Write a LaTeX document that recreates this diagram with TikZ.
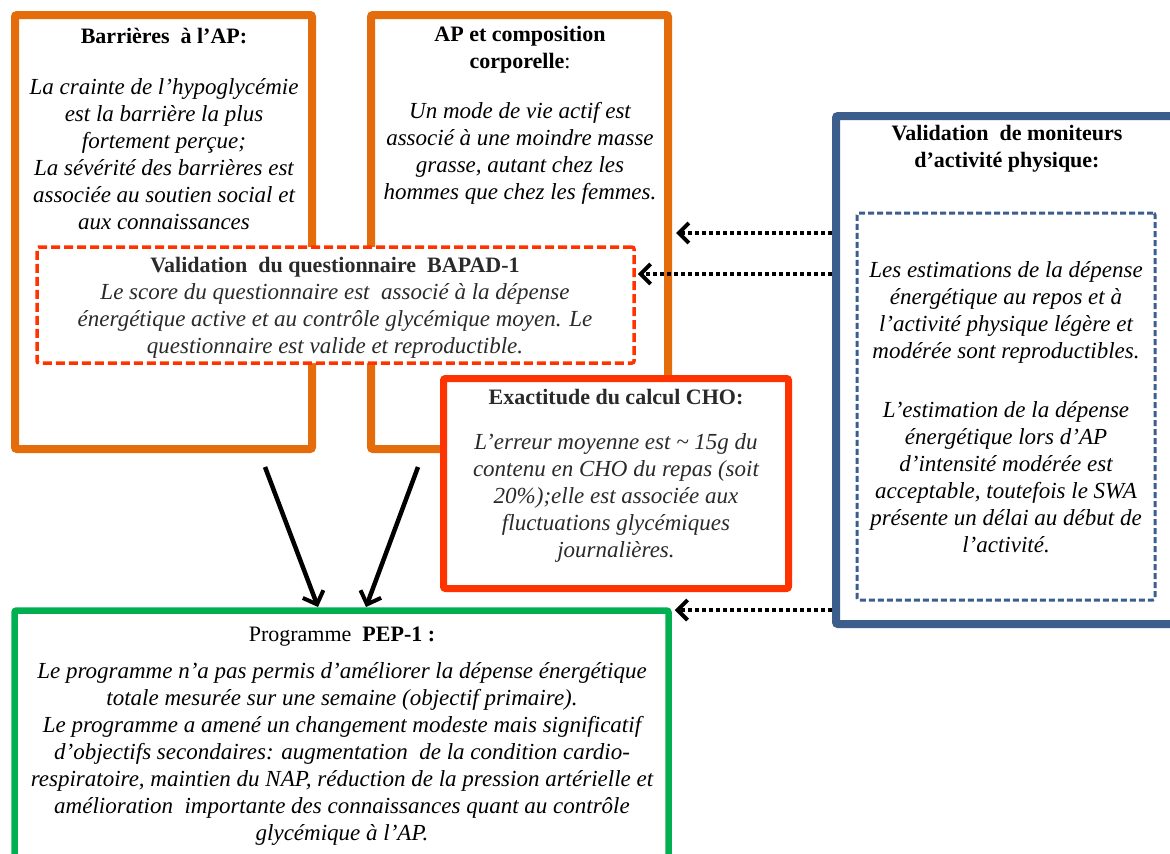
\documentclass[tikz,border=0pt]{standalone}
\usepackage{fontspec}
\setmainfont{Liberation Serif}
\usetikzlibrary{arrows.meta}
\definecolor{orng}{HTML}{E46C0A}
\definecolor{redo}{HTML}{FF3300}
\definecolor{grn}{HTML}{00B050}
\definecolor{blu}{HTML}{3B5E8C}
\definecolor{inkgray}{HTML}{2A2A2A}
\begin{document}
\begin{tikzpicture}[x=1pt,y=-1pt,
  frame/.style={draw, fill=white, rounded corners=2pt, inner sep=0pt},
  orangebox/.style={frame, draw=orng, line width=8pt},
  redbox/.style={frame, draw=redo, line width=7pt},
  qbox/.style={frame, draw=redo, line width=3.5pt, dash pattern=on 9pt off 4pt},
  greenbox/.style={frame, draw=grn, line width=6.5pt},
  bluebox/.style={frame, draw=blu, line width=8pt},
  innerbox/.style={frame, draw=blu, line width=3pt, dash pattern=on 6pt off 3pt},
  txt/.style={align=center, inner sep=0pt, font=\fontsize{22}{27}\selectfont},
  head/.style={txt, font=\fontsize{22}{27}\selectfont\bfseries},
  body/.style={txt, font=\fontsize{23}{27}\selectfont\itshape},
  solidarrow/.style={line width=4.5pt, -{Straight Barb[length=11pt,width=22pt,line width=4pt]}},
  dotarrow/.style={line width=4.5pt, dash pattern=on 4pt off 3pt,
    -{Straight Barb[length=10pt,width=20pt,line width=4pt]}}
]
\clip (0,0) rectangle (1170,854);

% frames
\node[orangebox, minimum width=297pt, minimum height=434pt] (barr) at (163.5,232) {};
\node[orangebox, minimum width=297pt, minimum height=434pt] (compo) at (519.5,232) {};
\node[qbox, minimum width=597pt, minimum height=116pt] (bapad) at (335.5,305) {};
\node[redbox, minimum width=345pt, minimum height=210pt] (cho) at (616,483.5) {};
\node[greenbox, minimum width=654pt, minimum height=300pt] (pep) at (341.5,760.5) {};
\node[bluebox, minimum width=364pt, minimum height=508pt] (moni) at (1018,370) {};
\node[innerbox, minimum width=298pt, minimum height=387pt] (est) at (1006,406.5) {};

% texts
\node[head] (barrT) at (164,36) {Barrières\ \ à l’AP:};
\node[body] (barrB) at (164,154) {La crainte de l’hypoglycémie\\est la barrière la plus\\fortement perçue;\\La sévérité des barrières est\\associée au soutien social et\\aux connaissances};

\node[head] (compoT) at (520,50) {AP et composition\\corporelle\textmd{:}};
\node[body] (compoB) at (520,153.5) {Un mode de vie actif est\\associé à une moindre masse\\grasse, autant chez les\\hommes que chez les femmes.};

\node[head, text=inkgray] (bapadT) at (335,267) {Validation\ \ du questionnaire\ \ BAPAD-1};
\node[body, text=inkgray] (bapadB) at (335,321) {Le score du questionnaire est\ \ associé à la dépense\\énergétique active et au contrôle glycémique moyen. Le\\questionnaire est valide et reproductible.};

\node[head, text=inkgray] (choT) at (616,397) {Exactitude du calcul CHO:};
\node[body, text=inkgray] (choB) at (616,497.5) {L’erreur moyenne est\ \textasciitilde\ 15g du\\contenu en CHO du repas (soit\\20\%);elle est associée aux\\fluctuations glycémiques\\journalières.};

\node[head] (moniT) at (1007,149) {Validation\ \ de moniteurs\\d’activité physique:};
\node[body] (estA) at (1006,312) {Les estimations de la dépense\\énergétique au repos et à\\l’activité physique légère et\\modérée sont reproductibles.};
\node[body] (estB) at (1006,477) {L’estimation de la dépense\\énergétique lors d’AP\\d’intensité modérée est\\acceptable, toutefois le SWA\\présente un délai au début de\\l’activité.};

\node[txt] (pepT) at (342,637) {Programme\ \ \textbf{PEP-1 :}};
\node[body] (pepB) at (342,753.5) {Le programme n’a pas permis d’améliorer la dépense énergétique\\totale mesurée sur une semaine (objectif primaire).\\Le programme a amené un changement modeste mais significatif\\d’objectifs secondaires: augmentation\ \ de la condition cardio-\\respiratoire, maintien du NAP, réduction de la pression artérielle et\\amélioration\ \ importante des connaissances quant au contrôle\\glycémique à l’AP.};

% connectors
\coordinate (s1) at (265,467);
\coordinate (e1) at (318,607);
\coordinate (s2) at (418,467);
\coordinate (e2) at (366,607);
\draw[solidarrow] (s1) -- (e1);
\draw[solidarrow] (s2) -- (e2);

\coordinate (yA) at (0,233);
\coordinate (yB) at (0,274);
\coordinate (yC) at (0,610);
\draw[dotarrow] (moni.west |- yA) -- ([xshift=4pt]compo.east |- yA);
\draw[dotarrow] (moni.west |- yB) -- ([xshift=2pt]bapad.east |- yB);
\draw[dotarrow] (moni.west |- yC) -- ([xshift=3pt]pep.east |- yC);
\end{tikzpicture}
\end{document}
